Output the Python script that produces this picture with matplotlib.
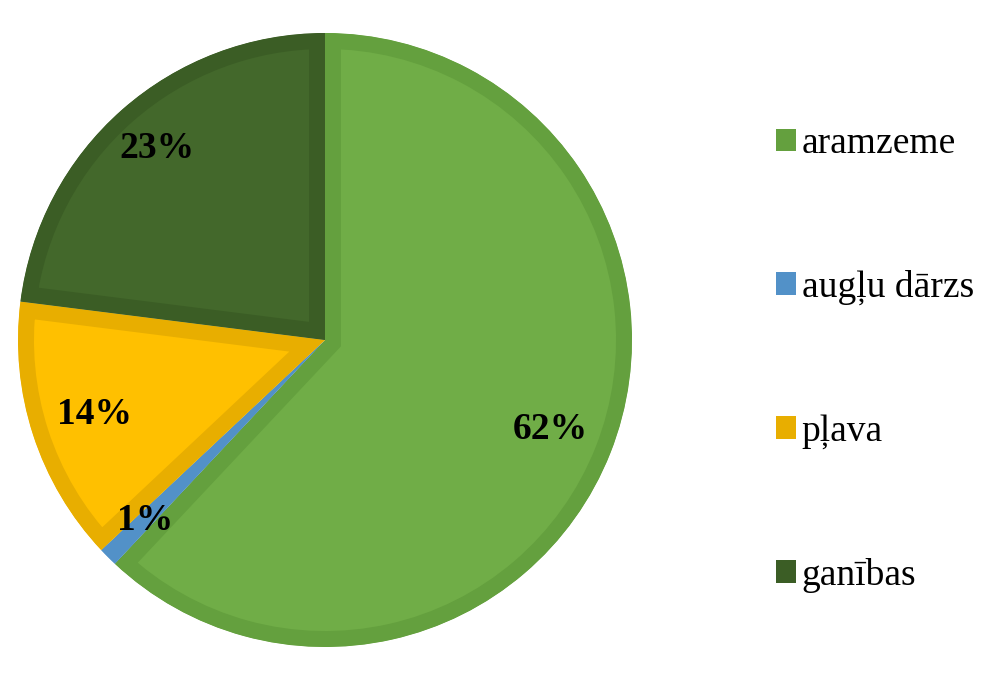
import matplotlib
matplotlib.use("Agg")
import matplotlib.pyplot as plt
import numpy as np
from matplotlib.patches import Patch

# data
labels = ["aramzeme", "augļu dārzs", "pļava", "ganības"]
values = [62, 1, 14, 23]
fills = ["#70AD47", "#5B9BD5", "#FFC000", "#43682B"]
borders = ["#64A03E", "#5291C8", "#E8AE00", "#3B5D25"]
label_dist = [0.79, 0.83, 0.79, 0.83]

plt.rcParams['font.family'] = ['Liberation Serif', 'DejaVu Serif']

W, H = 996, 676
fig = plt.figure(figsize=(W / 100, H / 100), dpi=100)

# pie centre and radius in pixels
cx, cy, r = 325, 340, 307
ax = fig.add_axes([(cx - r) / W, (H - cy - r) / H, 2 * r / W, 2 * r / H])

wedges, _ = ax.pie(values, colors=fills, startangle=90, counterclock=False,
                   radius=1, wedgeprops=dict(linewidth=0))
ax.set_xlim(-1, 1)
ax.set_ylim(-1, 1)
ax.set_aspect('equal')
ax.axis('off')

# inner border: thick edge clipped to the wedge outline
for w, bc in zip(wedges, borders):
    w.set_edgecolor(bc)
    w.set_linewidth(23)
    w.set_joinstyle('miter')
    w.set_clip_on(True)
    w.set_clip_path(w.get_path(), ax.transData)

# percent labels
total = sum(values)
for w, v, d in zip(wedges, values, label_dist):
    ang = np.deg2rad((w.theta1 + w.theta2) / 2)
    ax.text(d * np.cos(ang), d * np.sin(ang), f"{round(100 * v / total)}%",
            ha='center', va='center', fontsize=27, fontweight='bold',
            family='Liberation Serif', color='black')

handles = [Patch(facecolor=c, edgecolor='none') for c in borders]
fig.legend(handles, labels, loc='center left', bbox_to_anchor=(742 / W, 0.468),
           frameon=False, prop={'family': 'Liberation Serif', 'size': 27},
           handlelength=0.55, handleheight=0.55,
           handletextpad=0.14, labelspacing=2.9)

fig.savefig("out.png", dpi=100)
